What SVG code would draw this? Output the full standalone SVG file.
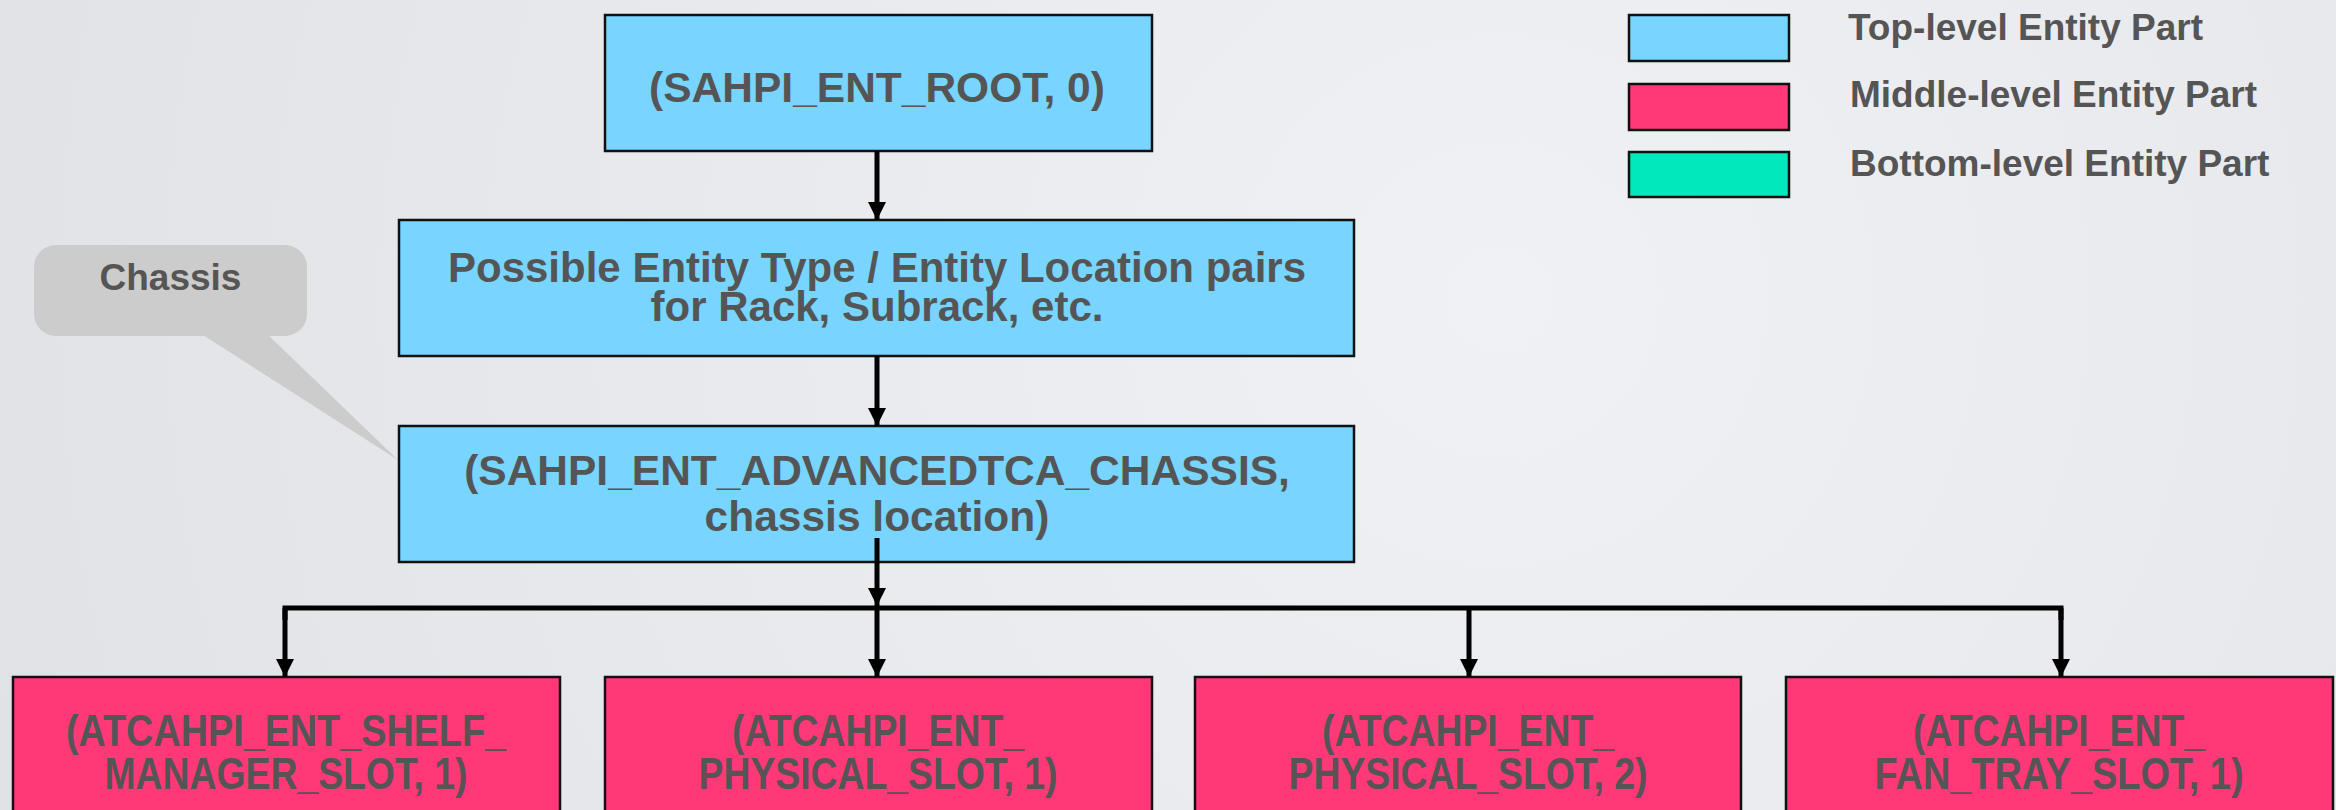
<svg xmlns="http://www.w3.org/2000/svg" width="2336" height="810" viewBox="0 0 2336 810">
  <defs>
    <radialGradient id="bg" cx="1500" cy="300" r="1600" gradientUnits="userSpaceOnUse">
      <stop offset="0" stop-color="#f0f1f4"/>
      <stop offset="1" stop-color="#e0e2e6"/>
    </radialGradient>
    <marker id="arr" viewBox="0 0 18 20" refX="18" refY="10" markerWidth="18" markerHeight="20" markerUnits="userSpaceOnUse" orient="auto">
      <path d="M0,1 L18,10 L0,19 Z" fill="#000"/>
    </marker>
    <style>
      .top { fill: #77d5ff; stroke: #111; stroke-width: 2.5; }
      .mid { fill: #ff3878; stroke: #111; stroke-width: 2.5; }
      .bot { fill: #00e8bb; stroke: #111; stroke-width: 2.5; }
      .t { font-family: "Liberation Sans", Arial, sans-serif; font-weight: bold; fill: #555555; text-anchor: middle; }
      .lg { font-family: "Liberation Sans", Arial, sans-serif; font-weight: bold; fill: #555555; font-size: 37px; }
      .c { fill: none; stroke: #000; stroke-width: 5; }
    </style>
  </defs>
  <rect x="0" y="0" width="2336" height="810" fill="url(#bg)"/>

  <g id="callout-chassis">
    <path d="M195,330 L263,330 L398,460 Z" fill="#cccccc"/>
    <rect x="34" y="245" width="273" height="91" rx="22" ry="22" fill="#cccccc"/>
    <text class="t" x="170.5" y="290" font-size="37">Chassis</text>
  </g>

  <g id="legend">
    <rect class="top" x="1629" y="15" width="160" height="46"/>
    <rect class="mid" x="1629" y="84" width="160" height="46"/>
    <rect class="bot" x="1629" y="152" width="160" height="45"/>
    <text class="lg" x="1848" y="40">Top-level Entity Part</text>
    <text class="lg" x="1850" y="107">Middle-level Entity Part</text>
    <text class="lg" x="1850" y="176">Bottom-level Entity Part</text>
  </g>

  <g id="node-root">
    <rect class="top" x="605" y="15" width="547" height="136"/>
    <text class="t" x="877" y="102" font-size="42.5">(SAHPI_ENT_ROOT, 0)</text>
  </g>

  <g id="node-rack">
    <rect class="top" x="399" y="220" width="955" height="136"/>
    <text class="t" x="877" y="281.5" font-size="42">Possible Entity Type / Entity Location pairs</text>
    <text class="t" x="877" y="321" font-size="42">for Rack, Subrack, etc.</text>
  </g>

  <g id="node-chassis">
    <rect class="top" x="399" y="426" width="955" height="136"/>
    <text class="t" x="877" y="485" font-size="42.5">(SAHPI_ENT_ADVANCEDTCA_CHASSIS,</text>
    <text class="t" x="877" y="531" font-size="42.5">chassis location)</text>
  </g>

  <g id="node-shelf-manager">
    <rect class="mid" x="13" y="677" width="547" height="150"/>
    <text class="t" x="286" y="746" font-size="44" textLength="440" lengthAdjust="spacingAndGlyphs">(ATCAHPI_ENT_SHELF_</text>
    <text class="t" x="286" y="789" font-size="44" textLength="363" lengthAdjust="spacingAndGlyphs">MANAGER_SLOT, 1)</text>
  </g>

  <g id="node-physical-1">
    <rect class="mid" x="605" y="677" width="547" height="150"/>
    <text class="t" x="878" y="746" font-size="44" textLength="292" lengthAdjust="spacingAndGlyphs">(ATCAHPI_ENT_</text>
    <text class="t" x="878" y="789" font-size="44" textLength="359" lengthAdjust="spacingAndGlyphs">PHYSICAL_SLOT, 1)</text>
  </g>

  <g id="node-physical-2">
    <rect class="mid" x="1195" y="677" width="546" height="150"/>
    <text class="t" x="1468" y="746" font-size="44" textLength="292" lengthAdjust="spacingAndGlyphs">(ATCAHPI_ENT_</text>
    <text class="t" x="1468" y="789" font-size="44" textLength="359" lengthAdjust="spacingAndGlyphs">PHYSICAL_SLOT, 2)</text>
  </g>

  <g id="node-fan-tray">
    <rect class="mid" x="1786" y="677" width="547" height="150"/>
    <text class="t" x="2059" y="746" font-size="44" textLength="292" lengthAdjust="spacingAndGlyphs">(ATCAHPI_ENT_</text>
    <text class="t" x="2059" y="789" font-size="44" textLength="369" lengthAdjust="spacingAndGlyphs">FAN_TRAY_SLOT, 1)</text>
  </g>

  <g id="connectors">
    <line class="c" stroke-width="4.5" x1="877" y1="151" x2="877" y2="220" marker-end="url(#arr)"/>
    <line class="c" stroke-width="4.5" x1="877" y1="356" x2="877" y2="426" marker-end="url(#arr)"/>
    <line class="c" stroke-width="4.5" x1="877" y1="538" x2="877" y2="606" marker-end="url(#arr)"/>
    <polyline class="c" stroke-width="5.5" points="285,620 285,608 2061,608 2061,620"/>
    <line class="c" stroke-width="4.5" x1="285" y1="608" x2="285" y2="677" marker-end="url(#arr)"/>
    <line class="c" stroke-width="4.5" x1="877" y1="608" x2="877" y2="677" marker-end="url(#arr)"/>
    <line class="c" stroke-width="4.5" x1="1469" y1="608" x2="1469" y2="677" marker-end="url(#arr)"/>
    <line class="c" stroke-width="4.5" x1="2061" y1="608" x2="2061" y2="677" marker-end="url(#arr)"/>
  </g>
</svg>
